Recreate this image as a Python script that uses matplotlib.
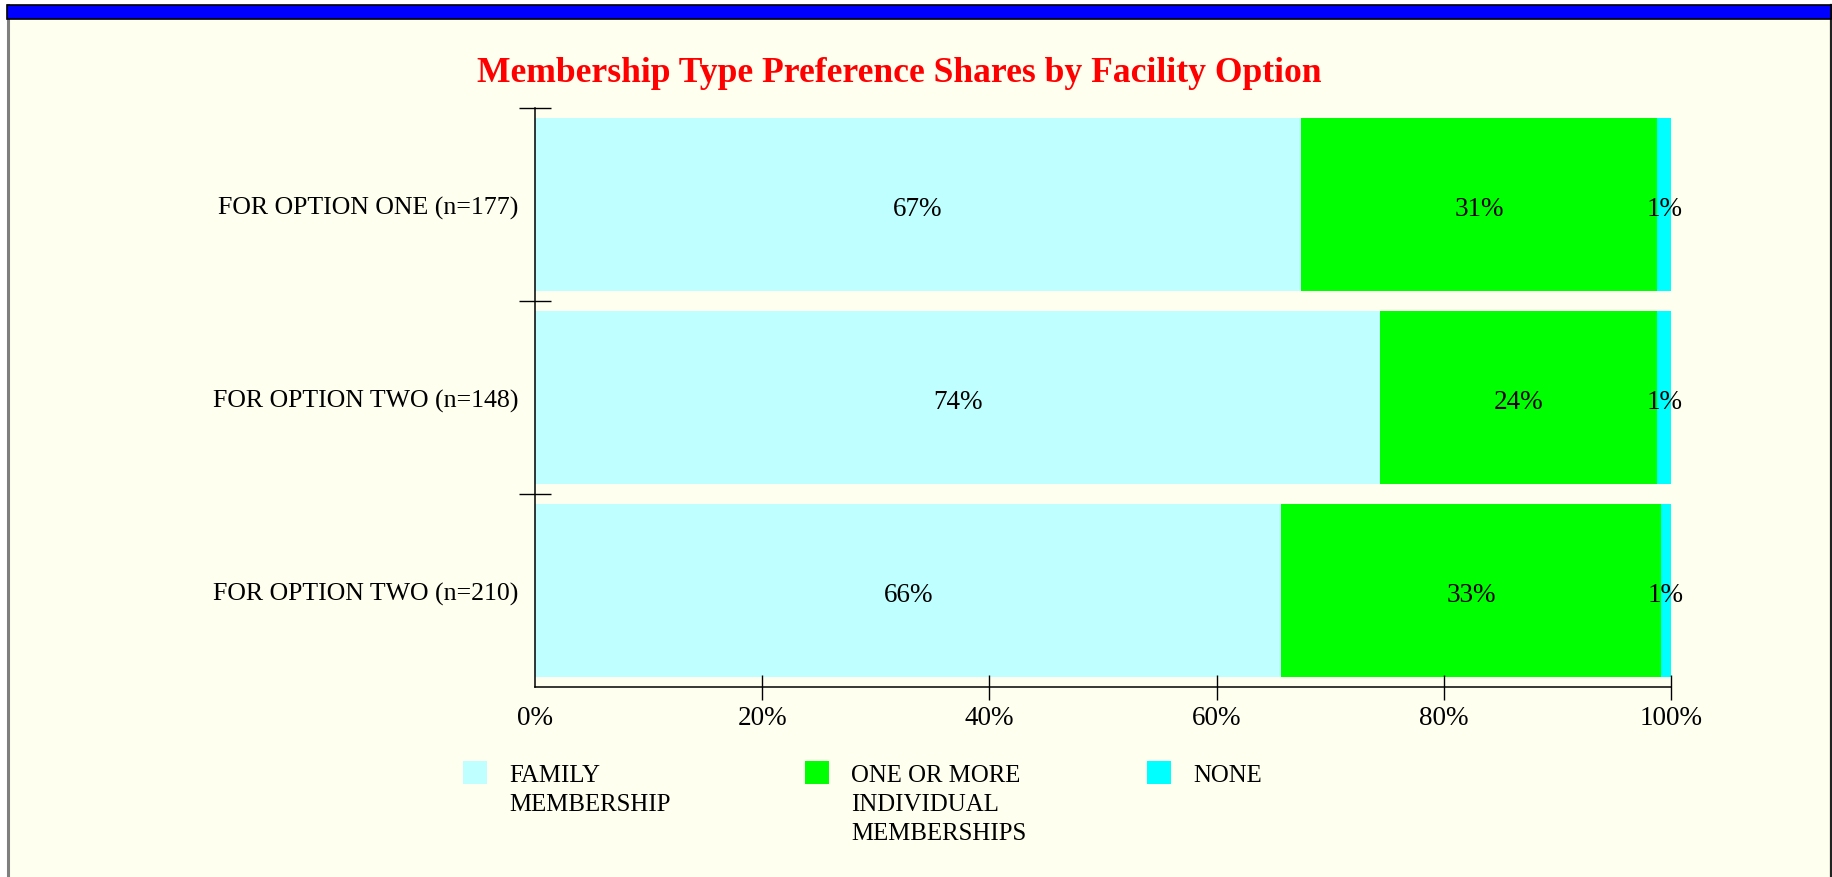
import matplotlib
matplotlib.use("Agg")
import matplotlib.pyplot as plt
from matplotlib.patches import Rectangle
import numpy as np

plt.rcParams['font.family'] = ['Liberation Serif', 'DejaVu Serif']

categories = ["FOR OPTION ONE (n=177)", "FOR OPTION TWO (n=148)", "FOR OPTION TWO (n=210)"]
series_names = ["FAMILY\nMEMBERSHIP", "ONE OR MORE\nINDIVIDUAL\nMEMBERSHIPS", "NONE"]
family = [67.4, 74.4, 65.7]
individual = [31.4, 24.4, 33.4]
none = [1.2, 1.2, 0.9]
labels = [["67%", "74%", "66%"], ["31%", "24%", "33%"], ["1%", "1%", "1%"]]
colors = ["#C0FFFF", "#00FF00", "#00FFFF"]
xticks = [0, 20, 40, 60, 80, 100]
xticklabels = ["0%", "20%", "40%", "60%", "80%", "100%"]

W, H = 1833, 878
fig = plt.figure(figsize=(W / 100, H / 100), dpi=100)
fig.patch.set_facecolor("white")

# panel background and frame
fig.patches.append(Rectangle((7 / W, 0), (1831 - 7) / W, (H - 6) / H, transform=fig.transFigure,
                             facecolor="#FFFFF0", edgecolor="none", zorder=-5))
fig.add_artist(plt.Line2D([8 / W, 8 / W], [0, (H - 6) / H], color="#7f7f7f", lw=2.2,
                          transform=fig.transFigure, zorder=-4))
fig.add_artist(plt.Line2D([1831 / W, 1831 / W], [0, (H - 6) / H], color="#222222", lw=1.6,
                          transform=fig.transFigure, zorder=-4))
fig.patches.append(Rectangle((7 / W, 1 - 20 / H), (1831 - 7) / W, 14 / H, transform=fig.transFigure,
                             facecolor="#0000FF", edgecolor="black", lw=1.2, zorder=-3))

ax = fig.add_axes([535 / W, 1 - 688 / H, (1671 - 535) / W, (688 - 109) / H])
ax.set_facecolor("none")
ax.set_zorder(2)

y = np.arange(len(categories))
series = [family, individual, none]
left = np.zeros(len(categories))
for vals, col, labs in zip(series, colors, labels):
    bars = ax.barh(y, vals, left=left, height=0.9, color=col, edgecolor="none")
    anns = ax.bar_label(bars, labels=labs, label_type="center", fontsize=19.5, color="black")
    for a in anns:
        a.xyann = (0, -3)
    left = left + np.array(vals)

ax.set_xlim(0, 100)
ax.set_ylim(2.5, -0.5)

ax.set_xticks(xticks[1:])
ax.set_xticklabels(xticklabels[1:], fontsize=19.5)
ax.xaxis.set_minor_locator(matplotlib.ticker.FixedLocator([0]))
ax.xaxis.set_minor_formatter(matplotlib.ticker.FixedFormatter(["0%"]))
ax.tick_params(axis="x", which="minor", length=0, labelsize=19.5, pad=13)
ax.tick_params(axis="x", which="major", direction="inout", length=18, width=1, pad=4)

ax.set_yticks(y)
ax.set_yticklabels(categories, fontsize=18.6)
ax.tick_params(axis="y", which="major", length=0, pad=12)
ax.yaxis.set_minor_locator(matplotlib.ticker.FixedLocator([-0.5, 0.5, 1.5]))
ax.tick_params(axis="y", which="minor", direction="inout", length=23.5, width=1)

for s in ["top", "right"]:
    ax.spines[s].set_visible(False)
for s in ["left", "bottom"]:
    ax.spines[s].set_linewidth(1.1)
    ax.spines[s].set_color("black")

fig.text(899 / W, 1 - 73 / H, "Membership Type Preference Shares by Facility Option",
         ha="center", va="center", fontsize=25.6, fontweight="bold", color="#FF0000")

# legend
leg_x = [463, 805, 1147]
for xi, name, col in zip(leg_x, series_names, colors):
    fig.patches.append(Rectangle((xi / W, 1 - 785 / H), 24 / W, 23 / H, transform=fig.transFigure,
                                 facecolor=col, edgecolor="none"))
    fig.text((xi + 46) / W, 1 - 765 / H, name, ha="left", va="top", fontsize=17.9,
             linespacing=1.4, color="black")

fig.savefig("out.png", dpi=100, facecolor=fig.get_facecolor())
